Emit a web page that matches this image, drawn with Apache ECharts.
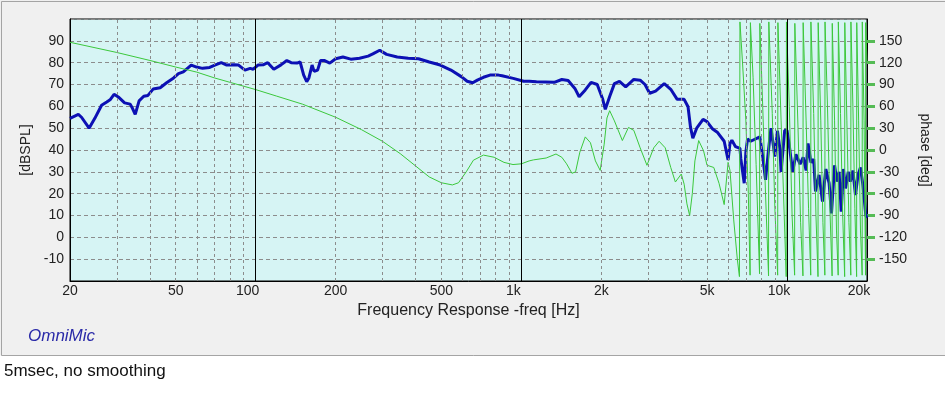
<!DOCTYPE html>
<html>
<head>
<meta charset="utf-8">
<title>Frequency Response</title>
<script src="https://cdn.jsdelivr.net/npm/echarts@6.0.0/dist/echarts.min.js"></script>
<style>
body{margin:0;background:#fff;}
#main{width:945px;height:401px;}
</style>
</head>
<body>
<div id="main"></div>
<script>
// SPL curve [Hz, dB]
var spl = [
[20,54.5],[21.5,56.3],[22.1,55],[23.6,50],[24.8,54.5],[26.3,60.5],[27.5,62],[28.3,63],[29.3,65.5],[30.6,64],
[32.1,61.6],[33.7,61],[34.4,59],[35.2,56.3],[36.4,62.5],[37.9,64.6],[39.3,65],[41.1,67.9],[43.7,68.5],[46.2,70.8],
[49.1,73],[51.2,75],[53.4,75.8],[57.2,78.9],[59.9,78],[63.1,77.4],[67.1,77.8],[70.2,78.9],[74.2,80],[77.8,78.9],
[82.9,79],[86.2,78.9],[91.1,76.6],[95.3,77.4],[97.9,77],[102,78.9],[106.6,79],[111,80],[117,77],[124.5,79],
[131,81],[136,80],[143,79.8],[147,80.3],[151.6,74.3],[155.6,71.3],[158.6,73],[163,78.9],[166,76],[171,76.6],
[175.5,81],[181,81],[190,79.8],[200,81.8],[213,82.6],[228,81.6],[246,82],[265,83],[276,84],[293,85.7],
[311,83.8],[341,82.6],[375,82],[410,81.8],[450,80.3],[495,78.9],[543,76.6],[596,73.5],[625,71.5],[656,70.8],
[683,72],[720,73.3],[762,74.3],[820,74.3],[846,74],[932,72.8],[1020,71.5],[1070,71.5],[1140,71.3],[1330,71],
[1420,72.3],[1500,71.8],[1590,68.2],[1650,64.4],[1740,67.5],[1830,71],[1930,70],[2020,63.6],[2070,58.6],[2150,64.5],
[2240,70.4],[2340,71.4],[2470,68.9],[2650,72.3],[2800,72],[2920,70],[3040,66],[3200,67],[3450,70.4],[3650,67.8],
[3860,63.2],[4100,63.2],[4240,59.8],[4330,50.6],[4420,45.4],[4570,50],[4830,54],[5000,53],[5250,49.6],[5480,48],
[5800,44],[6000,35.4],[6100,43],[6200,44.5],[6400,41.5],[6650,40.7],[6700,36],[6900,24.8],[7000,39],[7100,45],
[7300,44],[7400,43.4],[7900,46],[8100,37],[8300,26.3],[8500,39],[8700,50],[9000,37],[9200,48.8],[9400,40.7],
[9500,30],[9800,49],[10000,49],[10200,42],[10500,30],[10800,38],[11200,33.5],[11500,36.6],[11800,30.6],[12000,43],
[12300,34.3],[12600,35.8],[12800,21],[13200,28.6],[13600,16.4],[14000,31.3],[14400,24.8],[14700,11],[15100,33],[15400,25.5],
[15700,30],[16000,11.8],[16300,31.3],[16600,22.4],[17000,30],[17300,25.5],[17700,30.6],[18100,19.4],[18500,28.6],[18900,32],
[19300,24],[19800,10],[20000,9]
];

// phase curve [Hz, deg]
var phase = [
[20,148],[30,134],[40,123],[50,114],[60,107],[70,99],[80,93],[100,83],[120,74],[150,63],
[200,45],[250,28],[300,12],[350,-5],[400,-22],[450,-37],[500,-45],[550,-48],[580,-45],[620,-30],
[660,-14],[720,-7],[790,-10],[860,-17],[930,-20],[1000,-19],[1070,-15],[1110,-13.6],[1240,-11],[1350,-5.5],
[1420,-10],[1480,-19],[1550,-32],[1600,-30],[1660,-3],[1740,18],[1820,10],[1900,-15],[1980,-28],[2050,8],
[2100,44],[2150,54],[2240,40],[2400,13],[2530,31],[2650,27],[2800,3],[2970,-21],[3150,3],[3300,12],
[3480,3],[3650,-24],[3800,-44],[4000,-33],[4100,-47],[4200,-74],[4300,-90],[4400,-60],[4500,-15],[4650,13],
[4850,-1],[5000,-21],[5300,-24],[5550,-46],[5800,-75],[6000,-17],[6100,-28],[6300,-96],[6500,-150],[6620,-174],
[6650,176],[6800,120],[7000,40],[7150,-60],[7260,-172],[7280,175],[7450,100],[7650,-20],[7880,-170],[7900,174],
[8100,60],[8300,-60],[8520,-173],[8540,176],[8800,50],[9000,-80],[9220,-172],[9240,175],[9500,40],[9700,-60],
[9930,-174],[9950,176],[10200,60],[10450,-90],[10680,-172],[10700,174],[11000,30],[11250,-100],[11480,-173],[11500,175],
[11800,40],[12050,-80],[12280,-172],[12300,176],[12600,50],[12850,-90],[13080,-174],[13100,175],[13400,40],[13650,-100],
[13880,-172],[13900,176],[14200,60],[14500,-80],[14780,-173],[14800,174],[15100,40],[15350,-110],[15580,-172],[15600,176],
[15900,50],[16200,-90],[16480,-174],[16500,175],[16800,40],[17100,-100],[17380,-172],[17400,176],[17700,60],[18000,-80],
[18280,-174],[18300,175],[18600,40],[18900,-110],[19180,-172],[19200,176],[19500,40],[19750,-172],[19770,175],[20000,120]
];

var freqTicks = [20,50,100,200,500,1000,2000,5000,10000,20000];
var freqText  = ['20','50','100','200','500','1k','2k','5k','10k','20k'];
var shifted   = ['100','1k','10k','20k'];
var minorGrid = [30,40,50,60,70,80,90,200,300,400,500,600,700,800,900,2000,3000,4000,5000,6000,7000,8000,9000];
var majorGrid = [100,1000,10000];
var phaseTicks = [-150,-120,-90,-60,-30,0,30,60,90,120,150];

var chart = echarts.init(document.getElementById('main'));

var gridLines = [];
minorGrid.forEach(function(f){
	gridLines.push({xAxis:f, lineStyle:{color:'#8c8c8c', type:[3,3], width:1}});
});
majorGrid.forEach(function(f){
	gridLines.push({xAxis:f, lineStyle:{color:'#000', type:'solid', width:1}});
});

var font = 'Arial, "Liberation Sans", sans-serif';

var option = {
	animation:false,
	backgroundColor:'#f0f0f0',
	textStyle:{fontFamily:font},
	grid:{
		left:70, top:19, width:797, height:262,
		show:true, backgroundColor:'#d6f4f4', borderColor:'#000', borderWidth:1
	},
	xAxis:{
		type:'log', logBase:10, min:20, max:20000,
		axisLine:{onZero:false, lineStyle:{color:'#000'}},
		axisTick:{show:false},
		splitLine:{show:false},
		axisLabel:{
			customValues:freqTicks,
			color:'#222', fontSize:14, margin:3,
			formatter:function(v){
				var i = freqTicks.indexOf(Math.round(v));
				if(i < 0) return '';
				var t = freqText[i];
				return shifted.indexOf(t) >= 0 ? '{s|' + t + '}' : t;
			},
			rich:{s:{fontSize:14, color:'#222', padding:[0,16,0,0]}}
		},
		name:'Frequency Response -freq [Hz]',
		nameLocation:'middle', nameGap:21,
		nameTextStyle:{fontSize:16, color:'#222'}
	},
	yAxis:[{
		type:'value', min:-20, max:100, interval:10, position:'left',
		axisLine:{show:true, onZero:false, lineStyle:{color:'#000'}},
		axisTick:{show:false},
		splitLine:{lineStyle:{color:'#8c8c8c', type:[4,3]}},
		axisLabel:{color:'#222', fontSize:14, margin:6, showMinLabel:false, showMaxLabel:false},
		name:'[dBSPL]', nameLocation:'middle', nameRotate:90, nameGap:33,
		nameTextStyle:{fontSize:14, color:'#222'}
	},{
		type:'value', min:-180, max:180, interval:30, position:'right',
		axisLine:{show:true, onZero:false, lineStyle:{color:'#000'}},
		axisTick:{show:true, customValues:phaseTicks, length:8, lineStyle:{color:'#55bb55', width:3}},
		splitLine:{show:false},
		axisLabel:{customValues:phaseTicks, color:'#222', fontSize:14, margin:12},
		name:'phase [deg]', nameLocation:'middle', nameRotate:-90, nameGap:46,
		nameTextStyle:{fontSize:14, color:'#222'}
	}],
	series:[{
		// grid lines of the log axis
		type:'line', data:[[20,-20]], showSymbol:false, silent:true, z:1,
		lineStyle:{opacity:0},
		markLine:{silent:true, symbol:['none','none'], label:{show:false}, data:gridLines}
	},{
		name:'SPL', type:'line', yAxisIndex:0, data:spl, showSymbol:false, z:3,
		lineStyle:{color:'#0c10b4', width:3}
	},{
		name:'phase', type:'line', yAxisIndex:1, data:phase, showSymbol:false, z:4,
		lineStyle:{color:'#3cc83c', width:1}
	}],
	graphic:[
		{type:'rect', shape:{x:0, y:355.5, width:945, height:46}, style:{fill:'#fff'}},
		{type:'rect', shape:{x:1.5, y:1.5, width:960, height:354}, style:{fill:null, stroke:'#a4a4a4', lineWidth:1}},
		{type:'text', x:28, y:336, style:{text:'OmniMic', font:'italic 17px ' + font, fill:'#2a2aa8', verticalAlign:'middle'}},
		{type:'text', x:4, y:371, style:{text:'5msec, no smoothing', font:'17px ' + font, fill:'#111', verticalAlign:'middle'}}
	]
};
chart.setOption(option);
</script>
</body>
</html>
